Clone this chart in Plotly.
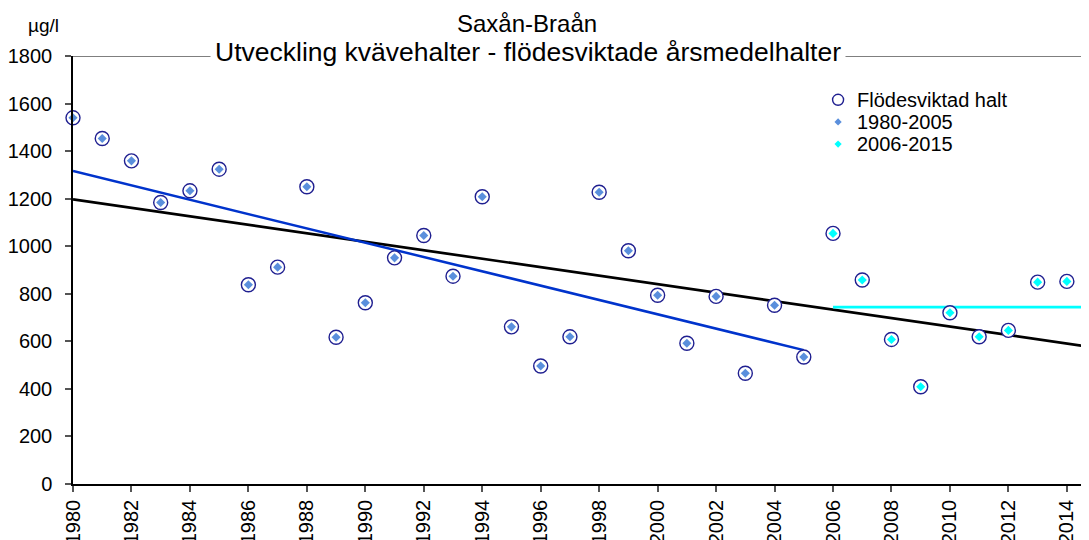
import plotly.graph_objects as go

# ---- data ----
years = list(range(1980, 2016))
values = [1540, 1453, 1359, 1184, 1233, 1324, 838, 912, 1250, 617,
          762, 951, 1045, 874, 1208, 661, 496, 619, 1227, 981,
          794, 592, 789, 466, 752, 534, 1054, 858, 608, 409,
          720, 619, 646, 849, 852, 850]

period1_years = years[:26]
period1_values = values[:26]
period2_years = years[26:]
period2_values = values[26:]

trend_all_years = [1980, 2015]
trend_all_values = [1197, 573]
trend_p1_years = [1980, 2005]
trend_p1_values = [1316, 563]
trend_p2_years = [2006, 2015]
trend_p2_values = [744, 744]

x_ticks = list(range(1980, 2015, 2))
y_ticks = [0, 200, 400, 600, 800, 1000, 1200, 1400, 1600, 1800]

title = "Saxån-Braån"
subtitle = "Utveckling kvävehalter - flödesviktade årsmedelhalter"
unit = "µg/l"
legend_labels = ["Flödesviktad halt", "1980-2005", "2006-2015"]

FONT = "Arial, Liberation Sans, sans-serif"
CIRCLE_LINE = "#1f1f90"
P1_COLOR = "#5A8FDC"
P2_COLOR = "#00FFFF"

fig = go.Figure()

# trend lines (drawn first, under the markers)
fig.add_trace(go.Scatter(x=trend_all_years, y=trend_all_values, mode="lines",
                         line=dict(color="#000000", width=2.7), showlegend=False,
                         hoverinfo="skip"))
fig.add_trace(go.Scatter(x=trend_p1_years, y=trend_p1_values, mode="lines",
                         line=dict(color="#0033CC", width=2.5), showlegend=False,
                         hoverinfo="skip"))
fig.add_trace(go.Scatter(x=trend_p2_years, y=trend_p2_values, mode="lines",
                         line=dict(color=P2_COLOR, width=2.7), showlegend=False,
                         hoverinfo="skip"))

# markers
fig.add_trace(go.Scatter(x=years, y=values, mode="markers", name=legend_labels[0],
                         marker=dict(symbol="circle", size=14, color="white",
                                     line=dict(color=CIRCLE_LINE, width=1.4)),
                         cliponaxis=False, showlegend=False))
fig.add_trace(go.Scatter(x=period1_years, y=period1_values, mode="markers", name=legend_labels[1],
                         marker=dict(symbol="diamond", size=7, color=P1_COLOR,
                                     line=dict(width=0)),
                         cliponaxis=False, showlegend=False))
fig.add_trace(go.Scatter(x=period2_years, y=period2_values, mode="markers", name=legend_labels[2],
                         marker=dict(symbol="diamond", size=7, color=P2_COLOR,
                                     line=dict(width=0)),
                         cliponaxis=False, showlegend=False))

# page geometry (the page body has an 8px margin)
OFF = 8
L_PAGE, T_PAGE, BOTTOM_PAGE = 72.7, 55.7, 484.1
W_PAGE, H_PAGE = 1089, 540
W, H = W_PAGE - OFF, H_PAGE - OFF
plot_w = W_PAGE - L_PAGE
plot_h = BOTTOM_PAGE - T_PAGE


def px_x(px):
    return (px - L_PAGE) / plot_w


def px_y(py):
    return (BOTTOM_PAGE - py) / plot_h


# top frame line
fig.add_shape(type="line", xref="paper", yref="y", x0=px_x(67), x1=1.0, y0=1800, y1=1800,
              line=dict(color="#7f7f7f", width=2), layer="below")

fig.add_annotation(text=title, xref="paper", yref="paper", x=px_x(527), y=px_y(23),
                   xanchor="center", yanchor="middle", showarrow=False,
                   font=dict(family=FONT, size=24, color="#000000"))
fig.add_annotation(text=subtitle, xref="paper", yref="paper", x=px_x(528), y=px_y(52),
                   xanchor="center", yanchor="middle", showarrow=False,
                   bgcolor="white", borderpad=4,
                   font=dict(family=FONT, size=26.5, color="#000000"))
fig.add_annotation(text=unit, xref="paper", yref="paper", x=px_x(43), y=px_y(25),
                   xanchor="center", yanchor="middle", showarrow=False,
                   font=dict(family=FONT, size=19, color="#000000"))

# legend (symbols as pixel-sized shapes, labels as annotations)
leg_sym_x = px_x(838)
leg_text_x = px_x(855)
leg_rows = [px_y(99.5), px_y(121.7), px_y(143.9)]

fig.add_shape(type="circle", xref="paper", yref="paper", xsizemode="pixel", ysizemode="pixel",
              xanchor=leg_sym_x, yanchor=leg_rows[0], x0=-5.5, x1=5.5, y0=-5.5, y1=5.5,
              line=dict(color=CIRCLE_LINE, width=1.4), fillcolor="white")
for row, color in zip(leg_rows[1:], [P1_COLOR, P2_COLOR]):
    fig.add_shape(type="path", xref="paper", yref="paper", xsizemode="pixel", ysizemode="pixel",
                  xanchor=leg_sym_x, yanchor=row,
                  path="M 0 -3.6 L 3.6 0 L 0 3.6 L -3.6 0 Z",
                  line=dict(width=0), fillcolor=color)
for row, label in zip(leg_rows, legend_labels):
    fig.add_annotation(text=label, xref="paper", yref="paper", x=leg_text_x, y=row,
                       xanchor="left", yanchor="middle", showarrow=False,
                       font=dict(family=FONT, size=20, color="#000000"))

fig.update_layout(
    width=W, height=H,
    margin=dict(l=L_PAGE - OFF, r=0, t=T_PAGE - OFF, b=H - (BOTTOM_PAGE - OFF), pad=0,
                autoexpand=False),
    paper_bgcolor="white", plot_bgcolor="white",
    font=dict(family=FONT, size=20, color="#000000"),
    showlegend=False,
    xaxis=dict(range=[1980, 1980 + plot_w / 29.24], tickmode="array", tickvals=x_ticks,
               ticktext=[str(v) for v in x_ticks], tickangle=-90, automargin=False,
               showgrid=False, zeroline=False, showline=True, linecolor="#000000", linewidth=1.5,
               ticks="outside", ticklen=6, tickcolor="#555555", tickwidth=1.5,
               tickfont=dict(family=FONT, size=20)),
    yaxis=dict(range=[0, 1800], tickmode="array", tickvals=y_ticks, automargin=False,
               showgrid=False, zeroline=False, showline=True, linecolor="#000000", linewidth=1.5,
               ticks="outside", ticklen=6, tickcolor="#555555", tickwidth=1.5,
               ticklabelstandoff=9,
               tickfont=dict(family=FONT, size=20)),
)

fig.write_html("out.html")
